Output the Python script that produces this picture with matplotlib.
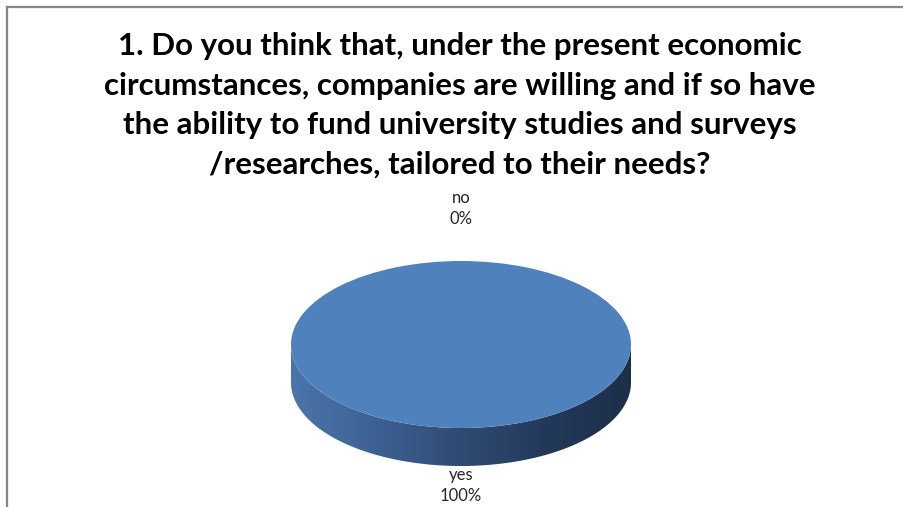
import numpy as np
import matplotlib
matplotlib.use("Agg")
import matplotlib.pyplot as plt
from matplotlib.colors import LinearSegmentedColormap
from matplotlib.patches import PathPatch
from matplotlib.path import Path
from matplotlib.lines import Line2D
from matplotlib.transforms import offset_copy

# ---- data ----
categories = ["yes", "no"]
values = [100, 0]
title = ("1. Do you think that, under the present economic\n"
         "circumstances, companies are willing and if so have\n"
         "the ability to fund university studies and surveys\n"
         "/researches, tailored to their needs?")

W, H = 904, 507
fig = plt.figure(figsize=(W / 100, H / 100), dpi=100)
fig.patch.set_facecolor("white")

# frame (top & left border)
fig.add_artist(Line2D([7 / W, 7 / W], [0, 1 - 7 / H], transform=fig.transFigure,
                      color="#868686", lw=1.6))
fig.add_artist(Line2D([7 / W, 1], [1 - 7 / H, 1 - 7 / H], transform=fig.transFigure,
                      color="#868686", lw=1.6))

# title
fig.text(460 / W, 1 - 32 / H, title, ha="center", va="top",
         fontsize=22.5, fontweight="bold", color="black",
         family=["Lato", "DejaVu Sans"], linespacing=1.5)

# pie geometry (pixels)
cx, top, rx, ry, depth = 461, 261, 170, 83.5, 38
d = depth / ry  # depth in y data units
ax_h = 2 * ry + depth
ax = fig.add_axes([(cx - rx) / W, (H - (top + ax_h)) / H, 2 * rx / W, ax_h / H])

labels = [f"{c}\n{v}%" for c, v in zip(categories, values)]
wedges, texts = ax.pie(values, labels=labels, startangle=90, counterclock=False,
                       colors=["#4F81BD", "#C0504D"], labeldistance=1.69,
                       wedgeprops=dict(linewidth=0, edgecolor="none"),
                       textprops=dict(fontsize=12, color="#262626",
                                      family=["Lato", "DejaVu Sans"],
                                      linespacing=1.4))
for t in texts:
    t.set_ha("center")
    t.set_va("center")
# nudge the top label slightly downward
texts[1].set_transform(offset_copy(ax.transData, fig=fig, x=0, y=-5, units="dots"))
for w in wedges:
    w.set_zorder(3)

ax.set_aspect("auto")
ax.set_xlim(-1, 1)
ax.set_ylim(-1 - d, 1)
ax.axis("off")

# side of the 3D pie with horizontal gradient
th = np.linspace(np.pi, 2 * np.pi, 200)
upper = np.column_stack([np.cos(th), np.sin(th)])
lower = np.column_stack([np.cos(th[::-1]), np.sin(th[::-1]) - d])
verts = np.vstack([upper, lower, upper[:1]])
codes = [Path.MOVETO] + [Path.LINETO] * (len(verts) - 2) + [Path.CLOSEPOLY]
side = PathPatch(Path(verts, codes), facecolor="none", edgecolor="none")
ax.add_patch(side)
cmap = LinearSegmentedColormap.from_list(
    "side", ["#4B75AB", "#3D6194", "#2F4B72", "#22395A", "#1D2F48"])
grad = np.linspace(0, 1, 256)[None, :]
im = ax.imshow(grad, cmap=cmap, extent=[-1, 1, -1 - d, 0], aspect="auto",
               zorder=1, interpolation="bilinear")
im.set_clip_path(side)
ax.set_xlim(-1, 1)
ax.set_ylim(-1 - d, 1)

fig.savefig("out.png", dpi=100)
